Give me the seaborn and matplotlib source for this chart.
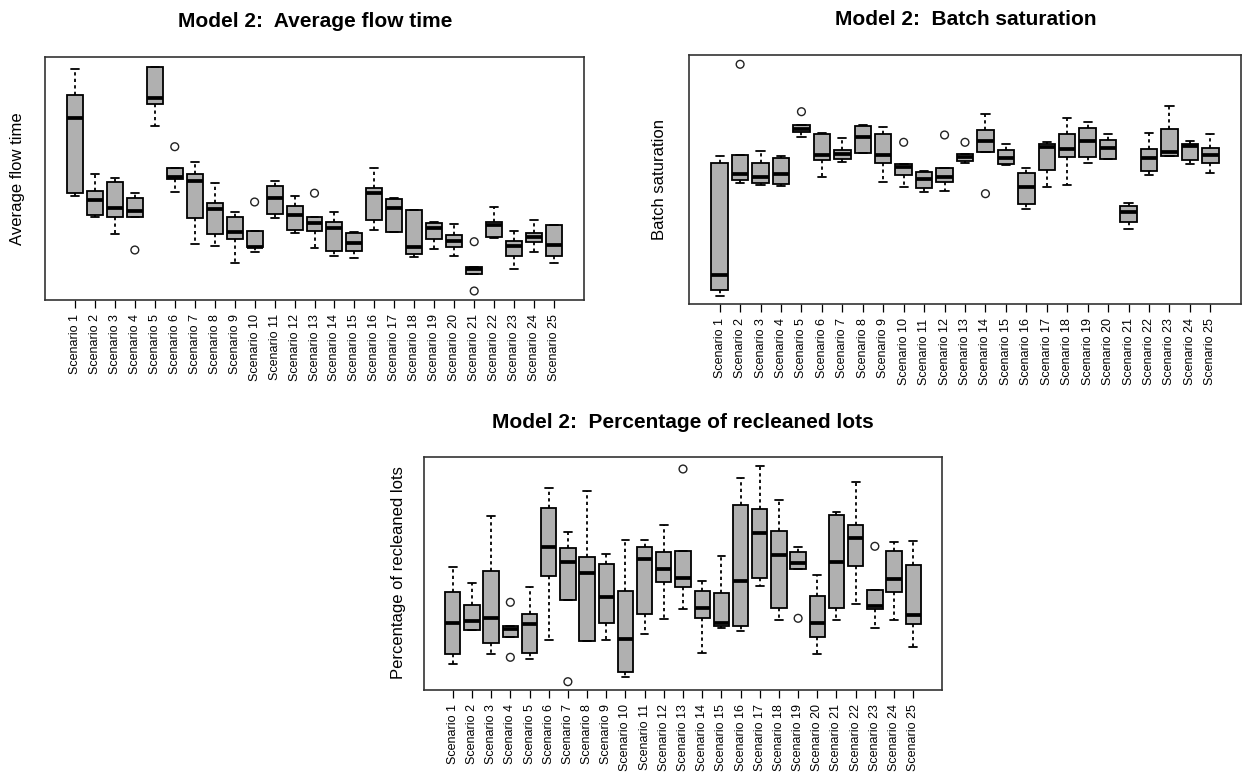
import numpy as np
import pandas as pd
import matplotlib
matplotlib.use("Agg")
import matplotlib.pyplot as plt
import seaborn as sns

# ---------------- data (arbitrary units) ----------------
scenarios = [f"Scenario {i}" for i in range(1, 26)]

# Model 2: Average flow time  -> lower whisker, Q1, median, Q3, upper whisker
flow_lo = [104.3, 83, 66.3, 83, 173.7, 108.3, 56.3, 54.3, 37, 48, 82.3, 67, 51.5,
           44.3, 41.7, 70, 67.7, 43.3, 51, 43.7, 25.7, 61.7, 31.3, 47.7, 36.7]
flow_q1 = [107.3, 85, 83, 83, 196, 121.3, 82.3, 66, 60.7, 52.7, 86.3, 70.3, 69,
           48.7, 49.3, 80, 67.7, 45.7, 61, 53.3, 25.7, 62.7, 44.3, 57.7, 44]
flow_med = [181.7, 100, 91.7, 89, 202.3, 123.3, 119, 91.3, 68.3, 53.3, 102, 85, 76.7,
            72, 56.7, 106.7, 92.3, 53.3, 71.7, 58.7, 30.7, 75, 54.3, 63.3, 55]
flow_q3 = [205.3, 109, 117.7, 102, 233, 132, 125.7, 97, 83.3, 69, 114, 94.3, 83,
           78.3, 67, 112, 101.3, 90.3, 76.7, 65, 33, 78, 58.7, 67.3, 74.7]
flow_hi = [231, 125.7, 121.7, 107.3, 233, 132, 137.7, 117, 87.7, 69, 118.7, 103.7, 83,
           88, 68, 131.7, 102, 90.3, 77.7, 76, 33, 93.3, 69, 79.7, 74.7]
flow_out_sc = [4, 6, 10, 13, 21, 21]
flow_out_val = [50, 153.3, 98, 106.8, 58.3, 9]

# Model 2: Batch saturation
sat_lo = [8.8, 121.8, 119.2, 118.5, 167.5, 127.8, 142.5, 151.2, 122.8, 117.8, 112.2, 113.2,
          141.2, 152.2, 139.5, 95.8, 117.2, 119.5, 141.8, 145.2, 75.8, 129.8, 148.5, 140.2, 131.8]
sat_q1 = [14.5, 124.5, 121.8, 120.2, 172.5, 144.5, 145.5, 151.2, 141.2, 129.5, 116.8, 123,
          143.2, 152.2, 140.8, 100.5, 134.2, 147.8, 147.8, 145.8, 82.8, 133.2, 148.5, 144.5, 141.5]
sat_med = [29.5, 130.5, 127.8, 130.5, 175.2, 149.8, 150.5, 167.2, 149.5, 137.2, 125.2, 127.3,
           147.8, 163.8, 146.2, 117.2, 157.2, 155.2, 163.5, 156.2, 92.5, 146.2, 152.5, 158.5, 149.5]
sat_q3 = [141.8, 149.5, 141.8, 146.5, 179.5, 170.5, 154.2, 178.5, 170.5, 140.5, 132.2, 136.3,
          150.2, 174.5, 154.8, 131.8, 160.5, 170.2, 176.5, 164.5, 98.8, 155.2, 175.8, 160.2, 156.5]
sat_hi = [148.5, 149.5, 153.5, 148.5, 179.5, 171.2, 166.8, 179.2, 177.5, 140.5, 133.2, 136.3,
          150.2, 190.8, 160.2, 136.8, 162.8, 186.2, 182.5, 170.8, 101.8, 171.2, 198.8, 163.5, 170.2]
sat_out_sc = [2, 5, 10, 12, 13, 14]
sat_out_val = [240.2, 192.8, 162.2, 169.5, 162.2, 110.8]

# Model 2: Percentage of recleaned lots
rec_lo = [26.3, 60, 36, 53.3, 30.7, 50, 89.7, 48.7, 50, 13.3, 55.7, 71, 81,
          36.7, 61.7, 59, 104.3, 69.7, 121.3, 35.7, 69.7, 86, 61.7, 69.7, 43.3]
rec_q1 = [36, 60, 46.7, 53.3, 36.7, 114, 89.7, 48.7, 67, 17.7, 76.3, 108.3, 103,
          72.3, 64, 64, 111.7, 82.3, 121.3, 52.7, 81.7, 123.7, 81.3, 97.7, 65.7]
rec_med = [67.3, 69.3, 72.3, 61.3, 66.3, 142.7, 128.3, 116.7, 92.7, 50.7, 130.7, 120.7, 112.3,
           82.3, 66.7, 109.3, 157.3, 135, 127, 66.7, 128, 152, 84.3, 110.7, 75]
rec_q3 = [98, 84.7, 119.3, 64, 76, 181.7, 142, 133, 126, 98.7, 143.3, 138.3, 139.3,
          99.3, 97, 185.3, 180.7, 159.3, 138, 93.7, 174.7, 165, 100, 139, 124.7]
rec_hi = [123, 107.3, 174, 64, 103, 202.3, 158.3, 199, 136.3, 150.3, 149.7, 164.7, 139.3,
          108.7, 133.7, 212.3, 224, 190, 143.3, 114.7, 178.3, 208.3, 100, 148.3, 149]
rec_out_sc = [4, 4, 7, 13, 19, 23]
rec_out_val = [87.7, 32.7, 8.3, 221, 71.7, 143.7]

titles = ["Model 2:  Average flow time", "Model 2:  Batch saturation",
          "Model 2:  Percentage of recleaned lots"]
ylabels = ["Average flow time", "Batch saturation", "Percentage of recleaned lots"]

# ---------------- style ----------------
sns.set_style("white")
plt.rcParams["font.family"] = ["Liberation Sans", "DejaVu Sans"]
plt.rcParams["text.color"] = "black"
plt.rcParams["axes.labelcolor"] = "black"
plt.rcParams["xtick.color"] = "black"
plt.rcParams["xtick.labelcolor"] = "black"

BOX_FILL = "#b0b0b0"
W, H = 1242, 776


def long_frame(lo, q1, med, q3, hi):
    rows = []
    for s, vals in zip(scenarios, zip(lo, q1, med, q3, hi)):
        for v in vals:
            rows.append((s, v))
    return pd.DataFrame(rows, columns=["scenario", "value"])


def outlier_frame(sc, val):
    return pd.DataFrame({"scenario": [scenarios[i - 1] for i in sc], "value": val})


def draw(ax, df, out_df, ymax):
    sns.boxplot(data=df, x="scenario", y="value", order=scenarios, whis=(0, 100),
                width=0.8, color=BOX_FILL, saturation=1, linecolor="black",
                linewidth=1.3, showfliers=False,
                medianprops=dict(linewidth=2.7, color="black", solid_capstyle="butt"),
                whiskerprops=dict(linestyle=(0, (1.8, 1.8))),
                capprops=dict(linestyle="-"),
                ax=ax)
    n0 = len(ax.collections)
    sns.stripplot(data=out_df, x="scenario", y="value", order=scenarios, jitter=False,
                  size=5.6, color="white", edgecolor="#222222", linewidth=1.0, ax=ax)
    for c in ax.collections[n0:]:
        c.set_facecolor("none")
        c.set_edgecolor("#222222")
    ax.set_xlim(-1.5, 25.5)
    ax.set_ylim(0, ymax)
    ax.set_xticks(range(len(scenarios)))
    ax.set_xticklabels(scenarios, rotation=90, fontsize=9, color="black")
    ax.set_yticks([])
    ax.set_xlabel("")
    ax.set_ylabel("")
    ax.tick_params(axis="x", length=5.5, width=0.9, pad=4.5, color="black",
                   labelcolor="black", bottom=True)
    for sp in ax.spines.values():
        sp.set_visible(True)
        sp.set_color("#333333")
        sp.set_linewidth(1.2)


fig = plt.figure(figsize=(W / 100, H / 100), dpi=100)
fig.patch.set_facecolor("white")

ax1 = fig.add_axes([45 / W, 1 - 300 / H, 539 / W, 243 / H])
ax2 = fig.add_axes([689 / W, 1 - 304.5 / H, 552 / W, 249.5 / H])
ax3 = fig.add_axes([424 / W, 1 - 690 / H, 518 / W, 233.3 / H])

draw(ax1, long_frame(flow_lo, flow_q1, flow_med, flow_q3, flow_hi),
     outlier_frame(flow_out_sc, flow_out_val), 243)
draw(ax2, long_frame(sat_lo, sat_q1, sat_med, sat_q3, sat_hi),
     outlier_frame(sat_out_sc, sat_out_val), 249.5)
draw(ax3, long_frame(rec_lo, rec_q1, rec_med, rec_q3, rec_hi),
     outlier_frame(rec_out_sc, rec_out_val), 233.3)

# titles
fig.text(315 / W, 1 - 27 / H, titles[0], fontsize=15, fontweight="bold",
         ha="center", va="baseline", color="black")
fig.text(966 / W, 1 - 25 / H, titles[1], fontsize=15, fontweight="bold",
         ha="center", va="baseline", color="black")
fig.text(683 / W, 1 - 428 / H, titles[2], fontsize=15, fontweight="bold",
         ha="center", va="baseline", color="black")

# y labels
fig.text(18 / W, 1 - 178.5 / H, ylabels[0], rotation=90, fontsize=12,
         ha="center", va="center", color="black")
fig.text(659 / W, 1 - 179.8 / H, ylabels[1], rotation=90, fontsize=12,
         ha="center", va="center", color="black")
fig.text(398 / W, 1 - 573 / H, ylabels[2], rotation=90, fontsize=12,
         ha="center", va="center", color="black")

fig.savefig("out.png", dpi=100, facecolor="white")
